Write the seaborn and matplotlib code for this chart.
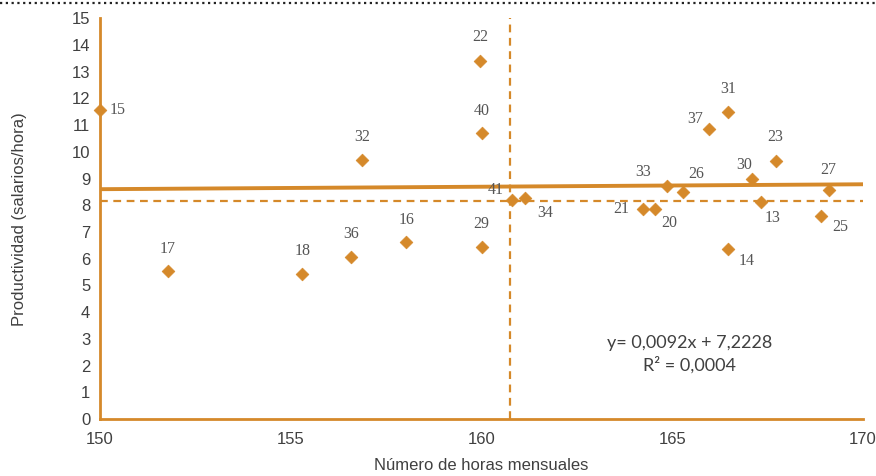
import matplotlib
matplotlib.use("Agg")
import matplotlib.pyplot as plt
import seaborn as sns
import pandas as pd
from matplotlib.lines import Line2D

# ---- data ----
labels = ["15", "17", "18", "36", "16", "29", "32", "22", "40", "41", "34",
          "33", "26", "21", "20", "37", "31", "14", "30", "13", "23", "27", "25"]
horas = [150.0, 151.78, 155.3, 156.57, 158.03, 160.0, 156.87, 159.97, 160.0, 160.8, 161.15,
         164.85, 165.27, 164.22, 164.55, 165.97, 166.47, 166.47, 167.1, 167.33, 167.71, 169.1, 168.9]
productividad = [11.55, 5.54, 5.44, 6.08, 6.62, 6.45, 9.71, 13.40, 10.69, 8.20, 8.28,
                 8.74, 8.49, 7.85, 7.85, 10.85, 11.51, 6.38, 8.99, 8.13, 9.67, 8.58, 7.61]
slope = 0.0092
intercept = 7.2228
mean_x = 160.75
mean_y = 8.15
x_ticks = [150, 155, 160, 165, 170]
y_ticks = list(range(0, 16))

# label offsets (points) – styling only
label_offsets = {
    "15": (13, 0), "17": (0, 16), "18": (0, 16), "36": (0, 16), "16": (0, 16),
    "29": (0, 16), "32": (0, 16), "22": (0, 17), "40": (0, 16), "41": (-12, 7),
    "34": (14, -11), "33": (-17, 10), "26": (10, 13), "21": (-15, 0), "20": (10, -10),
    "37": (-10, 7), "31": (0, 16), "14": (13, -9), "30": (-6, 10), "13": (8, -12),
    "23": (0, 17), "27": (0, 14), "25": (14, -8),
}

orange = "#D5892A"
text_gray = "#404040"

df = pd.DataFrame({"horas": horas, "prod": productividad, "label": labels})

sns.set_style("white")
plt.rcParams["font.family"] = ["Liberation Sans", "DejaVu Sans"]

fig = plt.figure(figsize=(8.76, 4.76), dpi=100)
ax = fig.add_axes([0.1142, 0.1197, 0.8710, 0.8419])

# reference lines
ax.axvline(mean_x, color=orange, lw=1.6, ls=(0, (3.5, 2.5)), zorder=1)
ax.axhline(mean_y, color=orange, lw=1.6, ls=(0, (3.5, 2.5)), zorder=1)
ax.axline((0, intercept), slope=slope, color=orange, lw=2.8, zorder=2)

sns.scatterplot(data=df, x="horas", y="prod", marker="D", s=42, color=orange,
                edgecolor=orange, linewidth=0.5, ax=ax, zorder=3, clip_on=False)

for lab, xv, yv in zip(labels, horas, productividad):
    dx, dy = label_offsets[lab]
    ax.annotate(lab, (xv, yv), xytext=(dx, dy), textcoords="offset points",
                ha="center", va="center", fontsize=11.5, color="#555555",
                family=["Liberation Serif", "DejaVu Serif"])

ax.text(0.773, 0.19, "y= 0,0092x + 7,2228", transform=ax.transAxes,
        ha="center", va="center", fontsize=13, color=text_gray,
        family=["Lato", "DejaVu Sans"])
ax.text(0.773, 0.135, "R² = 0,0004", transform=ax.transAxes,
        ha="center", va="center", fontsize=13, color=text_gray,
        family=["Lato", "DejaVu Sans"])

ax.set_xlim(150, 170)
ax.set_ylim(0, 15)
ax.set_xticks(x_ticks)
ax.set_yticks(y_ticks)

for side in ["top", "right"]:
    ax.spines[side].set_visible(False)
for side in ["left", "bottom"]:
    ax.spines[side].set_color(orange)
    ax.spines[side].set_linewidth(2)
ax.tick_params(axis="both", colors=orange, labelcolor=text_gray, labelsize=12,
               direction="out", length=4, width=1.5)
ax.tick_params(axis="x", pad=5)
ax.tick_params(axis="y", pad=3)
ax.grid(False)

ax.set_xlabel("Número de horas mensuales", fontsize=12, color=text_gray, labelpad=8)
ax.set_ylabel("Productividad (salarios/hora)", fontsize=12, color=text_gray, labelpad=32)

fig.add_artist(Line2D([0, 1], [0.994, 0.994], transform=fig.transFigure,
                      color="#222222", lw=1.6, ls=(0, (1, 1.6))))

fig.savefig("out.png", dpi=100)
